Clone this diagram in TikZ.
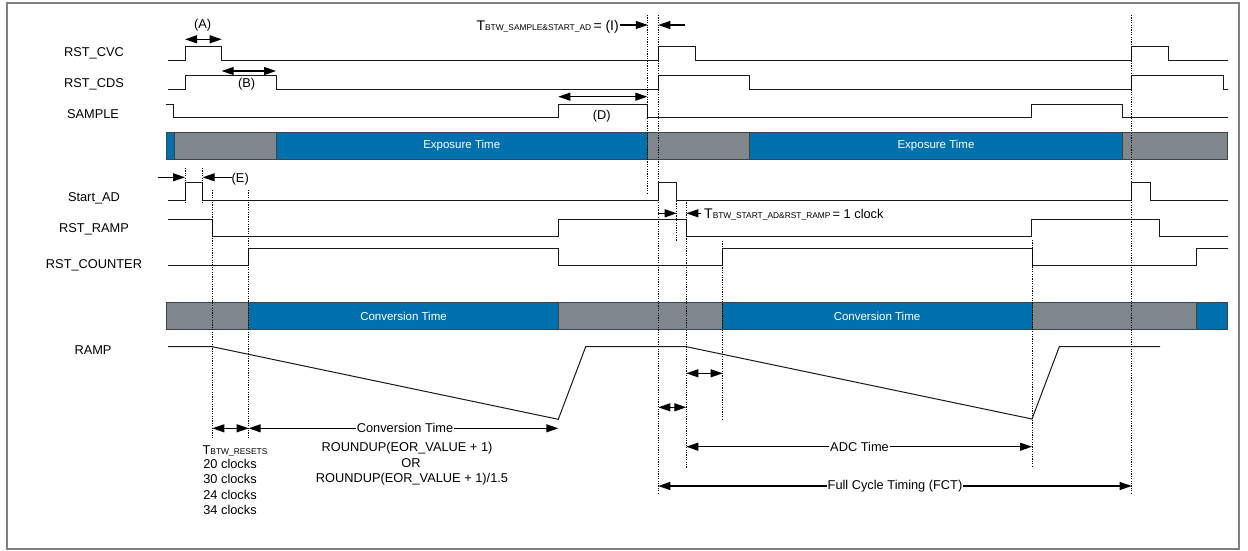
\documentclass[tikz,border=0pt]{standalone}
\usepackage{fontspec}
\setmainfont{Liberation Sans}
\usetikzlibrary{arrows.meta}
\definecolor{barblue}{HTML}{0071AE}
\definecolor{bargray}{HTML}{7F878C}
\definecolor{baredge}{HTML}{3C4448}
\definecolor{framecol}{HTML}{808080}
\newcommand\fsn{\fontsize{12.8}{15.3}\selectfont}
\newcommand\fsb{\fontsize{11.5}{13}\selectfont}
\newcommand\fsT{\fontsize{14}{16}\selectfont}
\newcommand\fss{\fontsize{8.4}{10}\selectfont}
\begin{document}
\begin{tikzpicture}[x=1pt,y=-1pt,
  sig/.style={line width=1pt, line join=miter, color=black!90},
  guide/.style={line width=0.9pt, dash pattern=on 1.2pt off 1.2pt},
  tip/.style={-{Triangle[length=12pt,width=8pt]}, line width=1.1pt},
  dtip/.style={{Triangle[length=12pt,width=8pt]}-{Triangle[length=12pt,width=8pt]}, line width=1.1pt},
  lbl/.style={font=\fsn, anchor=base, inner sep=0pt},
  bartxt/.style={font=\fsb, text=white, inner sep=0pt},
  segb/.style={fill=barblue, draw=baredge, line width=0.8pt},
  segg/.style={fill=bargray, draw=baredge, line width=0.8pt},
]
\useasboundingbox (0,0) rectangle (1248,551);
\draw[framecol, line width=2pt] (7,3) rectangle (1239,549);

% ---- signal labels
\node[lbl] (lcvc) at (94,56.3) {RST\_CVC};
\node[lbl] (lcds) at (94,88) {RST\_CDS};
\node[lbl] (lsam) at (93,118) {SAMPLE};
\node[lbl] (lsad) at (94,201.3) {Start\_AD};
\node[lbl] (lrr)  at (94,232.3) {RST\_RAMP};
\node[lbl] (lrc)  at (94,268.6) {RST\_COUNTER};
\node[lbl] (lrmp) at (93,354) {RAMP};

% ---- bars
\path[segb] (166,132.7) rectangle (174,159.3);
\path[segg] (174,132.7) rectangle (276,159.3);
\path[segb] (276,132.7) rectangle (647.3,159.3);
\path[segg] (647.3,132.7) rectangle (749.3,159.3);
\path[segb] (749.3,132.7) rectangle (1122.7,159.3);
\path[segg] (1122.7,132.7) rectangle (1227.7,159.3);
\node[bartxt] (exp1) at (461.7,146) {Exposure Time};
\node[bartxt] (exp2) at (936,146) {Exposure Time};

\path[segg] (166.7,302.7) rectangle (248.7,329.3);
\path[segb] (248.7,302.7) rectangle (558.3,329.3);
\path[segg] (558.3,302.7) rectangle (722.7,329.3);
\path[segb] (722.7,302.7) rectangle (1032,329.3);
\path[segg] (1032,302.7) rectangle (1196,329.3);
\path[segb] (1196,302.7) rectangle (1227.7,329.3);
\node[bartxt] (conv1) at (403.5,316) {Conversion Time};
\node[bartxt] (conv2) at (877,316) {Conversion Time};

% ---- signals
\draw[sig] (168,60.7) -| (185,46.7) -| (221.7,60.7) -| (658.3,46.7) -| (695,60.7)
  -| (1131.7,46.7) -| (1168.3,60.7) -- (1227.7,60.7);
\draw[sig] (168,89.3) -| (185,75.3) -| (276,89.3) -| (658.3,75.3) -| (749.3,89.3)
  -| (1131.7,75.3) -| (1223.3,89.3) -- (1227.7,89.3);
\draw[sig] (165.7,104.3) -| (173.7,117.7) -| (558.3,104.3) -| (647.3,117.7)
  -| (1031.7,104.3) -| (1122.7,117.7) -- (1227.7,117.7);
\draw[sig] (168,200.7) -| (185,182.7) -| (202.7,200.7) -| (658.3,182.7) -| (676.7,200.7)
  -| (1131.7,182.7) -| (1150,200.7) -- (1227.7,200.7);
\draw[sig] (168,219) -| (212.3,236.7) -| (558.3,219) -| (686.3,236.7)
  -| (1031.7,219) -| (1159.3,236.7) -- (1227.7,236.7);
\draw[sig] (168,265) -| (248.7,248.3) -| (558.3,265) -| (722.7,248.3)
  -| (1032,265) -| (1196,248.3) -- (1227.7,248.3);
\draw[sig] (168,346.7) -- (212.3,346.7) -- (558.3,419.3) -- (585.7,346.7)
  -- (686.3,346.7) -- (1032,419) -- (1059.3,346.7) -- (1160,346.7);

% ---- guide lines
\coordinate (g1t) at (185,168);    \coordinate (g1b) at (185,204);
\coordinate (g2t) at (202.7,168);  \coordinate (g2b) at (202.7,204);
\coordinate (g3t) at (212.3,190);  \coordinate (g3b) at (212.3,439);
\coordinate (g4t) at (248.7,190);  \coordinate (g4b) at (248.7,439);
\coordinate (g5t) at (647.8,15);   \coordinate (g5b) at (647.8,193);
\coordinate (g6t) at (658.3,15);   \coordinate (g6b) at (658.3,493);
\coordinate (g7t) at (676.7,201);  \coordinate (g7b) at (676.7,241);
\coordinate (g8t) at (686.3,200);  \coordinate (g8b) at (686.3,468);
\coordinate (g9t) at (722.7,241);  \coordinate (g9b) at (722.7,420);
\coordinate (g10t) at (1032,240);  \coordinate (g10b) at (1032,467);
\coordinate (g11t) at (1131.7,15); \coordinate (g11b) at (1131.7,494);
\foreach \g in {1,...,11} \draw[guide] (g\g t) -- (g\g b);

% ---- (A), (B), (D)
\draw[dtip] (185,39.3) -- (221.7,39.3);
\node[lbl] (la) at (202.7,28.6) {(A)};
\draw[dtip] (221.7,71) -- (276,71);
\node[lbl] (lb) at (246.7,88) {(B)};
\draw[dtip] (558.3,96.7) -- (647.3,96.7);
\node[lbl] (ld) at (601.7,119.6) {(D)};

% ---- (I)
\node[anchor=base east, inner sep=0pt] (li) at (619,30.7)
  {{\fsT T}{\fss BTW\_SAMPLE\&START\_AD}{\fsT\,= (I)}};
\coordinate (ia) at (620,25); \coordinate (ib) at (647.8,25);
\coordinate (ic) at (685,25); \coordinate (id) at (658.3,25);
\draw[tip] (ia) -- (ib);
\draw[tip] (ic) -- (id);

% ---- (E)
\coordinate (ea) at (157.7,177.3); \coordinate (eb) at (185,177.3);
\coordinate (ec) at (231.5,177.3); \coordinate (ed) at (202.7,177.3);
\draw[tip] (ea) -- (eb);
\draw[tip] (ec) -- (ed);
\node[lbl, anchor=base west] (le) at (231.5,182) {(E)};

% ---- T_BTW_START_AD&RST_RAMP
\coordinate (sa) at (658.3,213.3); \coordinate (sb) at (676.7,213.3);
\coordinate (sc) at (701,213.3);   \coordinate (sd) at (686.3,213.3);
\draw[tip] (sa) -- (sb);
\draw[tip] (sc) -- (sd);
\node[anchor=base west, inner sep=0pt] (lsr) at (704,218.5)
  {{\fsT T}{\fss BTW\_START\_AD\&RST\_RAMP}{\fsn\,= 1 clock}};

% ---- bottom measurements
\draw[dtip] (212.3,428.3) -- (248.7,428.3);
\node[lbl] (lt1) at (235,454) {T{\fss BTW\_RESETS}};
\node[lbl] (lt2) at (230,468.6) {20 clocks};
\node[lbl] (lt3) at (230,483.9) {30 clocks};
\node[lbl] (lt4) at (230,499.2) {24 clocks};
\node[lbl] (lt5) at (230,514.5) {34 clocks};

\draw[dtip] (248.7,428.3) -- (558.3,428.3);
\node[font=\fsn, fill=white, inner xsep=1pt, inner ysep=1pt] (lct) at (405,428.3) {Conversion Time};
\node[lbl] (lr1) at (407,451.9) {ROUNDUP(EOR\_VALUE + 1)};
\node[lbl] (lr2) at (411,467.9) {OR};
\node[lbl] (lr3) at (412,482.3) {ROUNDUP(EOR\_VALUE + 1)/1.5};

\draw[dtip] (686.3,373.3) -- (722.7,373.3);
\draw[dtip] (658.3,407.3) -- (686.3,407.3);

\draw[dtip] (686.3,446.7) -- (1032,446.7);
\node[font=\fsn, fill=white, inner xsep=1pt, inner ysep=1pt] (ladc) at (859.5,446.7) {ADC Time};
\draw[dtip] (658.3,486) -- (1131.7,486);
\node[font=\fsn, fill=white, inner xsep=1pt, inner ysep=1pt] (lfct) at (895,486) {Full Cycle Timing (FCT)};
\end{tikzpicture}
\end{document}
